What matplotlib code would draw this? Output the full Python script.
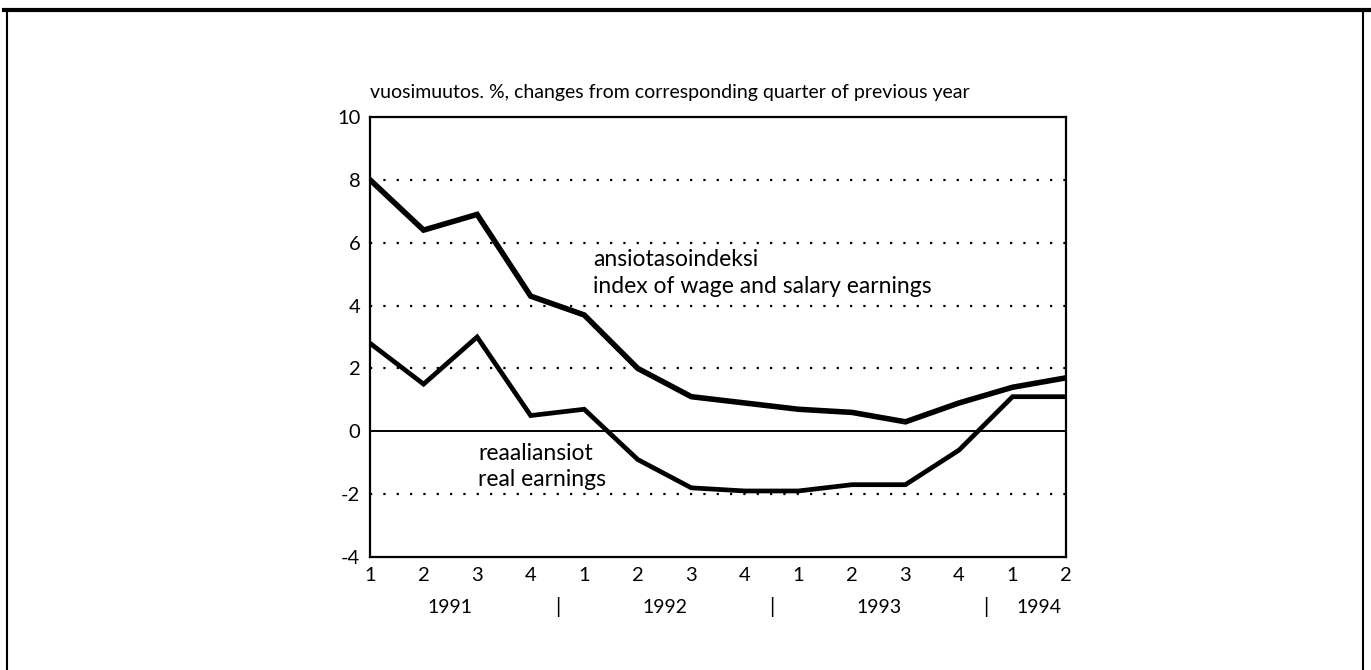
import numpy as np
import matplotlib
matplotlib.use('Agg')
import matplotlib.pyplot as plt
from matplotlib.lines import Line2D

plt.rcParams['font.family'] = ['Lato', 'DejaVu Sans']
plt.rcParams['axes.unicode_minus'] = False

QUARTERS = ['1', '2', '3', '4', '1', '2', '3', '4', '1', '2', '3', '4', '1', '2']
YEARS = ['1991', '1992', '1993', '1994']
YEAR_POS = [1.5, 5.5, 9.5, 12.5]
SEP_POS = [3.5, 7.5, 11.5]

# ansiotasoindeksi, vuosimuutos %
WAGE_INDEX = [8.0, 6.4, 6.9, 4.3, 3.7, 2.0, 1.1, 0.9, 0.7, 0.6, 0.3, 0.9, 1.4, 1.7]
# reaaliansiot
REAL_EARN = [2.8, 1.5, 3.0, 0.5, 0.7, -0.9, -1.8, -1.9, -1.9, -1.7, -1.7, -0.6, 1.1, 1.1]

X = np.arange(len(QUARTERS))

fig = plt.figure(figsize=(13.71, 6.70), dpi=100)
ax = fig.add_axes([0.2699, 0.1687, 0.5077, 0.6567])

for yv in [8, 6, 4, 2, -2]:
    ax.axhline(yv, color='black', lw=1.6, linestyle=(0, (1, 5)), zorder=1)
ax.axhline(0, color='black', lw=1.4, zorder=2)

ax.plot(X, WAGE_INDEX, color='black', lw=4.0, solid_joinstyle='miter', zorder=3)
ax.plot(X, REAL_EARN, color='black', lw=3.4, solid_joinstyle='miter', zorder=3)

ax.set_xlim(0, 13)
ax.set_ylim(-4, 10)
ax.set_yticks([-4, -2, 0, 2, 4, 6, 8, 10])
ax.set_xticks(X)
ax.set_xticklabels(QUARTERS)
ax.tick_params(axis='both', length=0, labelsize=14.5)
ax.tick_params(axis='y', pad=7)
ax.tick_params(axis='x', pad=7)
for s in ax.spines.values():
    s.set_linewidth(1.6)

for pos, yr in zip(YEAR_POS, YEARS):
    ax.text(pos, -5.6, yr, ha='center', va='center', fontsize=14)
for pos in SEP_POS:
    ax.text(pos, -5.6, '|', ha='center', va='center', fontsize=15)

ax.text(0, 10.78, 'vuosimuutos. %, changes from corresponding quarter of previous year',
        ha='left', va='center', fontsize=14)

ax.text(4.17, 5.45, 'ansiotasoindeksi', ha='left', va='center', fontsize=16.5)
ax.text(4.17, 4.62, 'index of wage and salary earnings', ha='left', va='center', fontsize=16.5)
ax.text(2.02, -0.7, 'reaaliansiot', ha='left', va='center', fontsize=16.5)
ax.text(2.02, -1.55, 'real earnings', ha='left', va='center', fontsize=16.5)

# kehys
fig.add_artist(Line2D([0.003, 1.0], [0.985, 0.985], color='black', lw=3))
fig.add_artist(Line2D([0.005, 0.005], [0.0, 0.985], color='black', lw=1.5))
fig.add_artist(Line2D([0.9945, 0.9945], [0.0, 0.985], color='black', lw=1.5))

fig.savefig('out.png', dpi=100)
